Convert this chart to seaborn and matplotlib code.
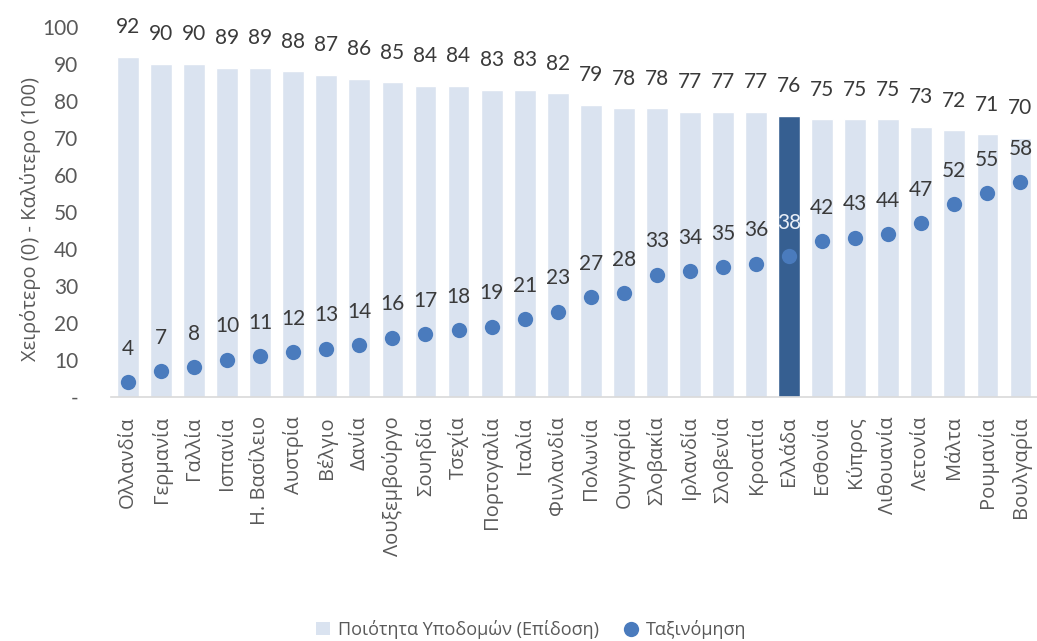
import matplotlib
matplotlib.use("Agg")
import matplotlib.pyplot as plt
import seaborn as sns
import pandas as pd
from matplotlib.patches import Patch
from matplotlib.lines import Line2D

countries = ["Ολλανδία", "Γερμανία", "Γαλλία", "Ισπανία", "Η. Βασίλειο", "Αυστρία",
             "Βέλγιο", "Δανία", "Λουξεμβούργο", "Σουηδία", "Τσεχία", "Πορτογαλία",
             "Ιταλία", "Φινλανδία", "Πολωνία", "Ουγγαρία", "Σλοβακία", "Ιρλανδία",
             "Σλοβενία", "Κροατία", "Ελλάδα", "Εσθονία", "Κύπρος", "Λιθουανία",
             "Λετονία", "Μάλτα", "Ρουμανία", "Βουλγαρία"]
performance = [92, 90, 90, 89, 89, 88, 87, 86, 85, 84, 84, 83, 83, 82, 79, 78,
               78, 77, 77, 77, 76, 75, 75, 75, 73, 72, 71, 70]
ranking = [4, 7, 8, 10, 11, 12, 13, 14, 16, 17, 18, 19, 21, 23, 27, 28, 33, 34,
           35, 36, 38, 42, 43, 44, 47, 52, 55, 58]
yticks = [0, 10, 20, 30, 40, 50, 60, 70, 80, 90, 100]
ytick_labels = ["-", "10", "20", "30", "40", "50", "60", "70", "80", "90", "100"]
highlight = "Ελλάδα"
bar_label = "Ποιότητα Υποδομών (Επίδοση)"
dot_label = "Ταξινόμηση"
ylabel = "Χειρότερο (0) - Καλύτερο (100)"

LIGHT = "#dae3f0"
DARK = "#365f91"
DOT = "#4a7bbd"
TXT = "#3a3a3a"
TICK = "#595959"
NUMFONT = ["Lato", "DejaVu Sans"]
TXTFONT = ["Open Sans", "DejaVu Sans"]

sns.set_theme(style="white")
plt.rcParams["font.family"] = NUMFONT

df = pd.DataFrame({"country": countries, "perf": performance, "rank": ranking})
palette = {c: (DARK if c == highlight else LIGHT) for c in countries}

fig = plt.figure(figsize=(10.37, 6.41), dpi=100)
ax = fig.add_axes([0.1075, 0.381, 0.8925, 0.577])

sns.barplot(data=df, x="country", y="perf", hue="country", palette=palette,
            legend=False, width=0.66, ax=ax, saturation=1)
sns.stripplot(data=df, x="country", y="rank", jitter=False, color=DOT, size=11,
              linewidth=0, ax=ax, zorder=5)

for i, (c, p, r) in enumerate(zip(countries, performance, ranking)):
    ax.text(i, p + 5.3, str(p), ha="center", va="bottom", fontsize=15,
            color=TXT, clip_on=False)
    col = "#e8eef7" if c == highlight else TXT
    ax.text(i, r + 6.3, str(r), ha="center", va="bottom", fontsize=15,
            color=col, clip_on=False)

ax.set_ylim(0, 100)
ax.set_xlim(-0.5, len(countries) - 0.5)
ax.set_yticks(yticks)
ax.set_yticklabels(ytick_labels, fontsize=15, color=TICK)
ax.set_xticks(range(len(countries)))
ax.set_xticklabels(countries, rotation=90, fontsize=14.5, color=TICK,
                   family=TXTFONT)
ax.tick_params(axis="both", length=0)
ax.tick_params(axis="y", pad=24)
ax.tick_params(axis="x", pad=14)
ax.set_xlabel("")
ax.set_ylabel(ylabel, fontsize=14.5, color=TICK, family=TXTFONT)
ax.yaxis.set_label_coords(-0.076, 0.48)
for s in ["left", "right", "top"]:
    ax.spines[s].set_visible(False)
ax.spines["bottom"].set_color("#d9d9d9")
ax.spines["bottom"].set_linewidth(1.2)

handles = [Patch(facecolor=LIGHT, edgecolor="none", label=bar_label),
           Line2D([0], [0], marker="o", color="none", markerfacecolor=DOT,
                  markeredgecolor="none", markersize=11, label=dot_label)]
fig.legend(handles=handles, loc="center", bbox_to_anchor=(0.512, 0.018),
           ncol=2, frameon=False, prop={"family": TXTFONT, "size": 13},
           labelcolor=TICK, handlelength=0.8, handletextpad=0.4, columnspacing=1.4)

fig.savefig("out.png", dpi=100)
